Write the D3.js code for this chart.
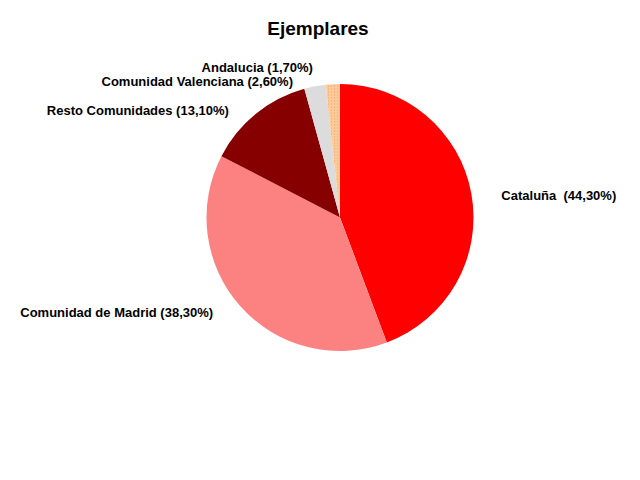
<!DOCTYPE html>
<html>
<head>
<meta charset="utf-8">
<script src="https://cdn.jsdelivr.net/npm/d3@7"></script>
<style>
  html, body { margin: 0; padding: 0; background: #fff; }
  svg { display: block; }
  text { font-family: "Liberation Sans", Arial, sans-serif; white-space: pre; }
</style>
</head>
<body>
<script>
// ---- data ----
const categories = ["Cataluña", "Comunidad de Madrid", "Resto Comunidades", "Comunidad Valenciana", "Andalucia"];
const values = [44.3, 38.3, 13.1, 2.6, 1.7];
const labelTexts = ["Cataluña  (44,30%)", "Comunidad de Madrid (38,30%)", "Resto Comunidades (13,10%)", "Comunidad Valenciana (2,60%)", "Andalucia (1,70%)"];
const title = "Ejemplares";

// ---- style ----
const W = 640, H = 480;
const cx = 340, cy = 217.5, R = 133.5;
const fills = ["#ff0000", "url(#pMadrid)", "url(#pResto)", "#dcdcdc", "url(#pAnd)"];
const labelNudge = [[30, 2], [-27, 6], [-27, -3], [-22, -5], [-20, -17]];

const svg = d3.select("body").append("svg").attr("width", W).attr("height", H);
const defs = svg.append("defs");

function checker(id, a, b, size) {
  const p = defs.append("pattern").attr("id", id).attr("patternUnits", "userSpaceOnUse")
    .attr("width", size * 2).attr("height", size * 2);
  p.append("rect").attr("width", size * 2).attr("height", size * 2).attr("fill", a);
  p.append("rect").attr("x", 0).attr("y", 0).attr("width", size).attr("height", size).attr("fill", b);
  p.append("rect").attr("x", size).attr("y", size).attr("width", size).attr("height", size).attr("fill", b);
}
checker("pMadrid", "#ff9a9a", "#f86a6a", 1);
checker("pResto", "#a00000", "#6e0000", 1);
(function () {
  const p = defs.append("pattern").attr("id", "pAnd").attr("patternUnits", "userSpaceOnUse")
    .attr("width", 3).attr("height", 3);
  p.append("rect").attr("width", 3).attr("height", 3).attr("fill", "#ffcc99");
  p.append("rect").attr("x", 0).attr("y", 0).attr("width", 1).attr("height", 1).attr("fill", "#ff9966");
})();

svg.append("text").attr("x", 318).attr("y", 35).attr("text-anchor", "middle")
  .attr("font-size", 19).attr("font-weight", "bold").text(title);

const pie = d3.pie().sort(null).value(d => d);
const arcs = pie(values);
const arc = d3.arc().innerRadius(0).outerRadius(R);

const g = svg.append("g").attr("transform", `translate(${cx},${cy})`);
g.selectAll("path").data(arcs).join("path")
  .attr("d", arc)
  .attr("fill", (d, i) => fills[i]);

const lbl = svg.append("g");
arcs.forEach((d, i) => {
  const a = (d.startAngle + d.endAngle) / 2;
  const x = cx + R * Math.sin(a) + labelNudge[i][0];
  const y = cy - R * Math.cos(a) + labelNudge[i][1];
  lbl.append("text")
    .attr("x", x).attr("y", y).attr("dy", "0.35em")
    .attr("text-anchor", Math.sin(a) >= 0 ? "start" : "end")
    .attr("font-size", 13).attr("font-weight", "bold")
    .text(labelTexts[i]);
});
</script>
</body>
</html>
